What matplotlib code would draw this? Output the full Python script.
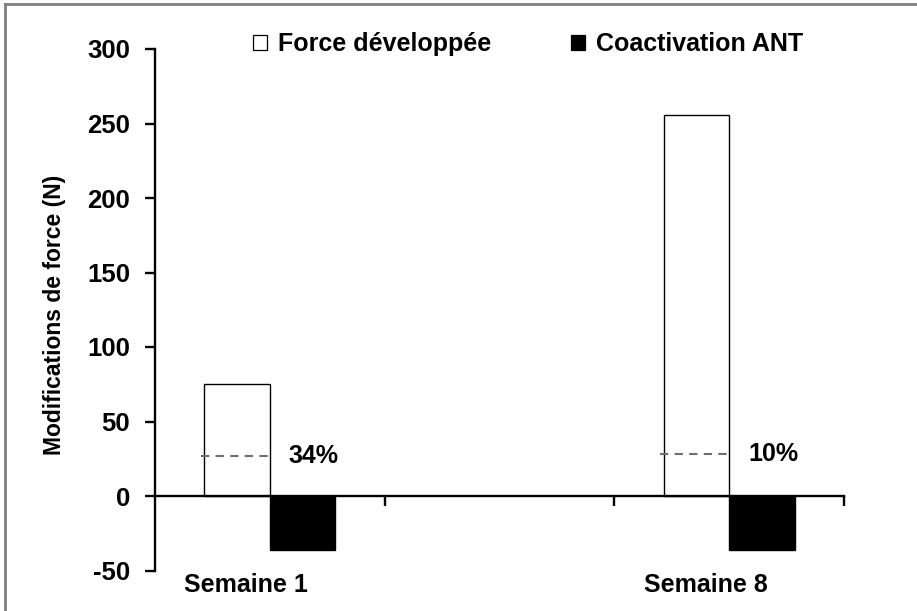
import numpy as np
import matplotlib
matplotlib.use("Agg")
import matplotlib.pyplot as plt
from matplotlib.patches import Patch
from matplotlib.lines import Line2D
import matplotlib.transforms as mtransforms

plt.rcParams['font.family'] = ['Liberation Sans', 'DejaVu Sans']
plt.rcParams['font.weight'] = 'bold'
plt.rcParams['axes.unicode_minus'] = False

# ---- data ----
categories = ["Semaine 1", "", "Semaine 8"]
force_developpee = [75, 0, 256]
coactivation_ant = [-36, 0, -36]
dashed_level = [27, 0, 28]
pct_labels = ["34%", "", "10%"]
legend_labels = ["Force développée", "Coactivation ANT"]
y_ticks = [-50, 0, 50, 100, 150, 200, 250, 300]
y_label = "Modifications de force (N)"

W, H = 917, 611
fig = plt.figure(figsize=(W / 100, H / 100), dpi=100)

def fx(px):
    return px / W

def fy(py):
    return 1 - py / H

ax = fig.add_axes([fx(155), fy(570.5), fx(844) - fx(155), fy(49) - fy(570.5)])

x = np.arange(len(categories))
mask = np.array([c != "" for c in categories])
bw = 0.285
force = np.array(force_developpee, dtype=float)
coact = np.array(coactivation_ant, dtype=float)
dash = np.array(dashed_level, dtype=float)

ax.bar(x[mask] - bw / 2, force[mask], width=bw, color='white', edgecolor='black',
       linewidth=1.0, zorder=2)
ax.bar(x[mask] + bw / 2, coact[mask], width=bw, color='black', edgecolor='black',
       linewidth=1.0, zorder=2)

for xi, lv, lab in zip(x[mask], dash[mask], np.array(pct_labels)[mask]):
    ax.plot([xi - bw - 0.015, xi], [lv, lv], color='#6e6e6e', linewidth=1.5,
            linestyle=(0, (4, 3)), zorder=3)
    ax.text(xi + 0.083, lv, lab, ha='left', va='center', fontsize=18,
            fontweight='bold', color='black')

ax.set_xlim(-0.5, len(categories) - 0.5)
ax.set_ylim(min(y_ticks), max(y_ticks))
ax.set_yticks(y_ticks)
ax.set_yticklabels([str(t) for t in y_ticks], fontsize=18.5, fontweight='bold')
ax.set_xticks(np.arange(len(categories)) + 0.5)
ax.set_xticklabels([])

for s in ['top', 'right']:
    ax.spines[s].set_visible(False)
ax.spines['bottom'].set_position(('data', 0))
ax.spines['left'].set_linewidth(1.7)
ax.spines['bottom'].set_linewidth(1.7)
ax.tick_params(axis='y', direction='out', length=7, width=1.7, pad=11)
ax.tick_params(axis='x', direction='out', length=7, width=1.7)

trans = mtransforms.blended_transform_factory(ax.transData, fig.transFigure)
for xi, lab in zip(x[mask], np.array(categories)[mask]):
    ax.text(xi - 0.102, fy(585), lab, transform=trans, ha='center', va='center',
            fontsize=18, fontweight='bold')

fig.text(fx(55), fy(315), y_label, rotation=90, ha='center', va='center',
         fontsize=16.5, fontweight='bold')

handles = [Patch(facecolor='white', edgecolor='black', linewidth=0.9),
           Patch(facecolor='black', edgecolor='black', linewidth=0.9)]
fig.legend(handles, legend_labels, loc='upper left',
           bbox_to_anchor=(fx(253), fy(32)), ncol=2, frameon=False,
           prop={'size': 18, 'weight': 'bold'}, handlelength=0.56,
           handleheight=0.56, handletextpad=0.44, columnspacing=3.2,
           borderpad=0, borderaxespad=0)

# figure frame (top and left edges visible)
fig.add_artist(Line2D([fx(5), 1], [fy(4), fy(4)], color='#808080', linewidth=2,
                      transform=fig.transFigure))
fig.add_artist(Line2D([fx(5), fx(5)], [fy(4), 0], color='#808080', linewidth=2,
                      transform=fig.transFigure))

fig.savefig('out.png', dpi=100)
